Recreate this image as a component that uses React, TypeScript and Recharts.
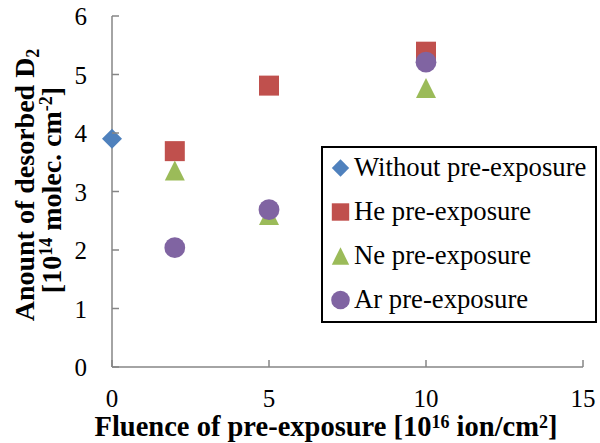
import React from 'react';
import { ScatterChart, Scatter, XAxis, YAxis, Legend } from 'recharts';

const xTicks = [0, 5, 10, 15];
const yTicks = [0, 1, 2, 3, 4, 5, 6];

const withoutData = [{ x: 0, y: 3.9 }];
const heData = [
  { x: 2, y: 3.69 },
  { x: 5, y: 4.81 },
  { x: 10, y: 5.39 },
];
const neData = [
  { x: 2, y: 3.36 },
  { x: 5, y: 2.6 },
  { x: 10, y: 4.77 },
];
const arData = [
  { x: 2, y: 2.04 },
  { x: 5, y: 2.69 },
  { x: 10, y: 5.21 },
];

const FONT = 'Liberation Serif';
const AXIS = '#868686';

const COLORS = {
  without: '#4F81BD',
  he: '#C0504D',
  ne: '#9BBB59',
  ar: '#8064A2',
};

const series = [
  { key: 'without', name: 'Without pre-exposure', data: withoutData, color: COLORS.without, kind: 'diamond' },
  { key: 'he', name: 'He pre-exposure', data: heData, color: COLORS.he, kind: 'square' },
  { key: 'ne', name: 'Ne pre-exposure', data: neData, color: COLORS.ne, kind: 'triangle' },
  { key: 'ar', name: 'Ar pre-exposure', data: arData, color: COLORS.ar, kind: 'circle' },
];

// marker drawn around the point the library hands us
function marker(kind: string, cx: number, cy: number, r: number, fill: string) {
  if (kind === 'diamond') {
    return <polygon points={`${cx},${cy - r} ${cx + r},${cy} ${cx},${cy + r} ${cx - r},${cy}`} fill={fill} />;
  }
  if (kind === 'square') {
    return <rect x={cx - r} y={cy - r} width={r * 2} height={r * 2} fill={fill} />;
  }
  if (kind === 'triangle') {
    return <polygon points={`${cx},${cy - r} ${cx + r},${cy + r} ${cx - r},${cy + r}`} fill={fill} />;
  }
  return <circle cx={cx} cy={cy} r={r + 0.4} fill={fill} />;
}

const shapeFor = (kind: string, color: string) => (props: any) => marker(kind, props.cx, props.cy, 10, color);

const YTick = ({ x, y, payload }: any) => (
  <g>
    <line x1={x} y1={y} x2={x + 7} y2={y} stroke={AXIS} strokeWidth={1.5} />
    <text x={x - 25} y={y + 9} textAnchor="end" fontFamily={FONT} fontSize={25} fill="#000">
      {payload.value}
    </text>
  </g>
);

const XTick = ({ x, y, payload }: any) => (
  <g>
    <line x1={x} y1={y} x2={x} y2={y - 7} stroke={AXIS} strokeWidth={1.5} />
    <text x={x} y={y + 40} textAnchor="middle" fontFamily={FONT} fontSize={25} fill="#000">
      {payload.value}
    </text>
  </g>
);

const LegendBox = () => (
  <svg width={277} height={178} style={{ display: 'block' }}>
    <rect x={1} y={1} width={274} height={175} fill="#fff" stroke="#000" strokeWidth={2} />
    {series.map((s, i) => (
      <g key={s.key}>
        {marker(s.kind, 19.5, 22 + i * 44, s.kind === 'circle' ? 8.9 : 8.7, s.color)}
        <text x={33} y={30 + i * 44} fontFamily={FONT} fontSize={26.7} fill="#000">
          {s.name}
        </text>
      </g>
    ))}
  </svg>
);

const YTitle = () => (
  <g fontFamily={FONT} fontWeight="bold" fontSize={28} fill="#000">
    <text transform="translate(34, 185) rotate(-90)" textAnchor="middle">
      Anount of desorbed D<tspan dy={5} fontSize={18}>2</tspan>
    </text>
    <text transform="translate(61, 190) rotate(-90)" textAnchor="middle">
      [10<tspan dy={-9} fontSize={18}>14</tspan>
      <tspan dy={9}> molec. cm</tspan>
      <tspan dy={-9} fontSize={18}>-2</tspan>
      <tspan dy={9}>]</tspan>
    </text>
  </g>
);

const XTitle = () => (
  <text x={326} y={436} textAnchor="middle" fontFamily={FONT} fontWeight="bold" fontSize={28.5} fill="#000">
    Fluence of pre-exposure [10<tspan dy={-8} fontSize={18}>16</tspan>
    <tspan dy={8}> ion/cm</tspan>
    <tspan dy={-8} fontSize={18}>2</tspan>
    <tspan dy={8}>]</tspan>
  </text>
);

export default function App() {
  return (
    <div style={{ position: 'absolute', left: 0, top: 0, width: 600, height: 443, background: '#fff' }}>
      <ScatterChart width={600} height={443} margin={{ top: 16, right: 17, bottom: 0, left: 0 }}>
        <XAxis
          type="number"
          dataKey="x"
          domain={[0, 15]}
          ticks={xTicks}
          height={76}
          tickSize={0}
          tickMargin={0}
          tick={<XTick />}
          tickLine={false}
          axisLine={{ stroke: AXIS, strokeWidth: 1.5 }}
          label={<XTitle />}
        />
        <YAxis
          type="number"
          dataKey="y"
          domain={[0, 6]}
          ticks={yTicks}
          width={112}
          tickSize={0}
          tickMargin={0}
          tick={<YTick />}
          tickLine={false}
          axisLine={{ stroke: AXIS, strokeWidth: 1.5 }}
          label={<YTitle />}
        />
        {series.map((s) => (
          <Scatter
            key={s.key}
            name={s.name}
            data={s.data}
            fill={s.color}
            shape={shapeFor(s.kind, s.color)}
            isAnimationActive={false}
          />
        ))}
        <Legend
          layout="vertical"
          align="center"
          verticalAlign="middle"
          content={<LegendBox />}
          wrapperStyle={{ position: 'absolute', left: 321, top: 146, width: 'auto' }}
        />
      </ScatterChart>
    </div>
  );
}
